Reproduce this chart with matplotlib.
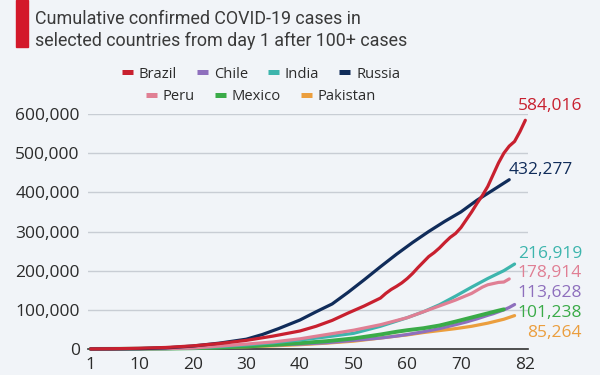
import matplotlib
matplotlib.use("Agg")
import matplotlib.pyplot as plt
from matplotlib.lines import Line2D
from matplotlib.ticker import FuncFormatter

# ---------------- data ----------------
brazil_days = [1,5,10,15,20,25,30,35,40,43,46,49,52,55,56,57,58,59,60,61,62,63,64,65,66,67,68,69,70,71,72,73,74,75,76,77,78,79,80,81,82]
brazil_vals = [151,650,1900,3900,8000,14000,22000,33000,46000,58000,73000,92000,110000,130000,142000,152000,160000,169000,180000,193000,208000,222000,236000,246000,258000,272000,285000,295000,310000,330000,350000,372000,392000,415000,445000,475000,500000,518000,530000,555000,584016]

russia_days = [1,5,10,15,20,25,28,30,33,36,40,43,46,49,52,55,58,61,64,67,70,73,76,79]
russia_vals = [114,250,850,2800,7500,15000,21000,25000,37000,52000,74000,95000,115000,145000,177000,210000,242000,272000,300000,326000,350000,380000,406000,432277]

india_days = [1,5,10,15,20,25,30,35,40,45,50,55,60,63,66,69,72,75,78,80]
india_vals = [107,200,500,1000,2500,6000,10500,16000,23000,31000,40000,58000,80000,95000,113000,135000,158000,180000,200000,216919]

peru_days = [1,5,10,15,20,25,30,35,40,45,50,55,60,63,66,69,72,74,75,76,77,78,79]
peru_vals = [117,300,600,1000,2500,7500,12500,18000,26000,37000,48000,62000,80000,95000,110000,125000,142000,158000,164000,167000,170000,171000,178914]

chile_days = [1,5,10,15,20,25,30,35,40,45,50,55,58,60,63,66,69,71,73,75,76,77,78,79,80]
chile_vals = [155,400,1300,2700,4500,6500,8000,10000,12500,16000,22000,28000,33000,37000,44000,52000,62000,69000,77000,86000,90000,95000,100000,106000,113628]

mexico_days = [1,5,10,15,20,25,30,35,40,45,50,55,58,60,63,66,69,71,73,75,77,78]
mexico_vals = [118,300,600,1100,2000,3800,6500,10500,15000,20000,27000,37000,44000,48000,53000,60000,70000,77000,84000,91000,98000,101238]

pakistan_days = [1,5,10,15,20,25,30,35,40,45,50,55,58,60,63,66,69,72,75,78,80]
pakistan_vals = [187,400,900,1500,2400,4000,5800,8000,11000,15000,20000,28000,33000,36000,42000,47000,52000,58000,66000,76000,85264]

x_ticks = [1, 10, 20, 30, 40, 50, 60, 70, 82]
y_ticks = [0, 100000, 200000, 300000, 400000, 500000, 600000]

title_lines = ["Cumulative confirmed COVID-19 cases in",
               "selected countries from day 1 after 100+ cases"]

# ---------------- style ----------------
FONT = ["Open Sans", "DejaVu Sans"]
HEAD_FONT = ["Roboto", "DejaVu Sans"]
plt.rcParams['font.family'] = FONT
BG = "#f1f4f8"
TXT = "#2b2b2b"

colors = {
    "Brazil": "#c8202f",
    "Chile": "#8e6fbd",
    "India": "#3db5ad",
    "Russia": "#102c5a",
    "Peru": "#e07f94",
    "Mexico": "#3aab48",
    "Pakistan": "#eb9e3e",
}

series = {
    "Brazil": (brazil_days, brazil_vals),
    "Chile": (chile_days, chile_vals),
    "India": (india_days, india_vals),
    "Russia": (russia_days, russia_vals),
    "Peru": (peru_days, peru_vals),
    "Mexico": (mexico_days, mexico_vals),
    "Pakistan": (pakistan_days, pakistan_vals),
}

W, H = 600, 375
fig = plt.figure(figsize=(W/100, H/100), dpi=100, facecolor=BG)

def fx(px):
    return px / W

def fy(py):
    return 1 - py / H

ax = fig.add_axes([fx(88), fy(349), fx(528) - fx(88), fy(114) - fy(349)])
ax.set_facecolor(BG)

draw_order = ["Pakistan", "Chile", "Mexico", "India", "Peru", "Russia", "Brazil"]
for name in draw_order:
    d, v = series[name]
    lw = 2.8 if name == "Mexico" else 2.3
    ax.plot(d, v, color=colors[name], lw=lw, solid_capstyle="round",
            solid_joinstyle="round", clip_on=False, zorder=3)

ax.set_xlim(0.5, 82.5)
ax.set_ylim(0, 600000)
ax.set_xticks(x_ticks)
ax.set_yticks(y_ticks)
ax.yaxis.set_major_formatter(FuncFormatter(lambda v, p: f"{int(v):,}"))
ax.tick_params(axis="both", length=0, labelsize=12.5, colors=TXT)
ax.tick_params(axis="y", pad=6)
ax.tick_params(axis="x", pad=6)
ax.grid(axis="y", color="#c8cdd4", lw=1.0, zorder=0)
ax.set_axisbelow(True)
for s in ["top", "right", "left"]:
    ax.spines[s].set_visible(False)
ax.spines["bottom"].set_color("#333333")
ax.spines["bottom"].set_linewidth(1.2)
ax.spines["bottom"].set_zorder(2)

# end labels
end_labels = [
    ("Brazil", "584,016", 582, 106),
    ("Russia", "432,277", 573, 170),
    ("India", "216,919", 582, 254),
    ("Peru", "178,914", 582, 273),
    ("Chile", "113,628", 582, 293),
    ("Mexico", "101,238", 582, 313),
    ("Pakistan", "85,264", 582, 333),
]
for name, txt, xr, yc in end_labels:
    fig.text(fx(xr), fy(yc), txt, color=colors[name], fontsize=12.5,
             ha="right", va="center")

# title
fig.patches.append(plt.Rectangle((fx(16), fy(47)), fx(12), fy(0) - fy(47),
                                 transform=fig.transFigure, color="#d3182a"))
fig.text(fx(35), fy(24.5), title_lines[0], fontsize=12.9, color="#3a3a3a",
         ha="left", va="baseline", family=HEAD_FONT)
fig.text(fx(35), fy(46.5), title_lines[1], fontsize=12.9, color="#3a3a3a",
         ha="left", va="baseline", family=HEAD_FONT)

# legend rows
row1 = ["Brazil", "Chile", "India", "Russia"]
row2 = ["Peru", "Mexico", "Pakistan"]
for row, yc in [(row1, 74), (row2, 97)]:
    handles = [Line2D([0], [0], color=colors[n], lw=3.6, solid_capstyle="butt") for n in row]
    leg = fig.legend(handles, row, loc="center", bbox_to_anchor=(fx(261), fy(yc)),
                     ncol=len(row), frameon=False,
                     prop={"family": FONT, "size": 10.6},
                     handlelength=0.75, handletextpad=0.4, columnspacing=1.35,
                     borderpad=0, borderaxespad=0)
    for t in leg.get_texts():
        t.set_color(TXT)

fig.savefig("out.png", dpi=100, facecolor=BG)
